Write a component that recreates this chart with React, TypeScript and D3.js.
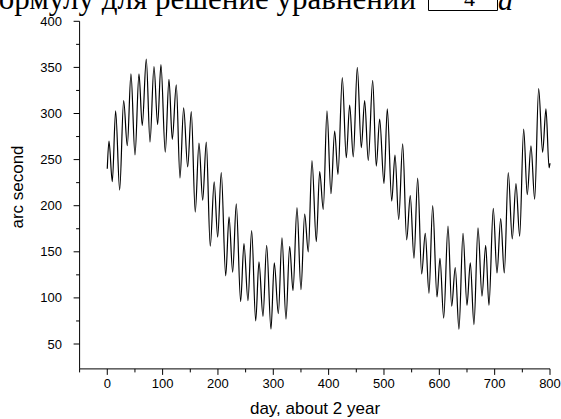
import React from "react";
import * as d3 from "d3";

// extrema of the curve (day, arc second)
const days = [
  0, 3.1, 9.1, 15.1, 22.4, 29.6, 36.2, 42.8, 50.1, 57.3, 63.2, 70.5, 77.2, 84.4, 91, 97,
  104.8, 111.5, 117.5, 124.7, 131.4, 138, 145.3, 151.8, 159, 165.7, 172.4, 178.9, 186.1,
  193.2, 199.5, 206, 214, 220, 226.6, 233.1, 241, 247, 254.2, 260.9, 268.2, 274.1, 281.4,
  288, 295.8, 301.8, 309.1, 315.7, 322.9, 329.6, 335.6, 342.8, 350, 356.7, 363.2, 369.9,
  377.7, 383.8, 390.3, 397, 404.2, 410.9, 416.9, 424.7, 431.9, 438, 444.5, 451.8, 459,
  465.1, 471.6, 479.6, 486.1, 492.2, 500, 506, 514, 519.9, 526.6, 533.8, 541, 547.5,
  554.2, 560.9, 568.1, 574.6, 581.3, 588, 595.8, 601.2, 607.9, 615.7, 622.3, 628.8,
  635.5, 642.8, 650, 656, 662.6, 669.9, 677.1, 683.8, 689.7, 697.5, 704.2, 710.9, 717.4,
  724.6, 731.8, 738.5, 745.2, 752.4, 758.9, 765.6, 772.3, 779.5, 786.7, 792.7, 798.4, 800,
];
const values = [
  240, 270, 226, 303, 217, 314, 265, 343, 255, 343, 287, 359, 269, 351, 288, 353,
  258, 337, 272, 331, 230, 306, 242, 302, 193, 268, 206, 269, 156,
  226, 166, 236, 124, 188, 128, 202, 96, 159, 97, 173, 75, 139, 80,
  157, 66, 138, 83, 165, 77, 156, 108, 198, 109, 191, 150, 249,
  161, 237, 196, 303, 213, 281, 234, 339, 252, 309, 253, 350, 263,
  314, 249, 336, 243, 294, 224, 305, 205, 255, 185, 267, 163, 211,
  143, 230, 126, 170, 105, 200, 101, 143, 78, 178, 91, 133,
  66, 170, 92, 138, 71, 176, 102, 157, 92, 197, 127, 186, 127,
  236, 164, 224, 167, 283, 212, 265, 207, 327, 258, 305, 241, 246,
];

const xMajor = [0, 100, 200, 300, 400, 500, 600, 700, 800];
const xMinor = [-50, 50, 150, 250, 350, 450, 550, 650, 750];
const yMajor = [50, 100, 150, 200, 250, 300, 350, 400];
const yMinor = [75, 125, 175, 225, 275, 325, 375];

const xLabel = "day, about 2 year";
const yLabel = "arc second";
const headerText = "формулу для решение уравнений";

export default function App() {
  const W = 561;
  const H = 419;
  const x = d3.scaleLinear().domain([-50, 800]).range([79.6, 550]);
  const y = d3.scaleLinear().domain([23, 400]).range([368.9, 21.3]);
  const pts = days.map((d, i) => [d, values[i]] as [number, number]);
  const line = d3
    .line<[number, number]>()
    .x((d) => x(d[0]))
    .y((d) => y(d[1]))
    .curve(d3.curveMonotoneX);
  const x0 = x(-50);
  const y0 = y(23);
  const sans = "Liberation Sans, Arial, sans-serif";
  return (
    <svg
      width={W}
      height={H}
      style={{ position: "fixed", left: 0, top: 0, background: "#fff" }}
    >
      <rect x={0} y={0} width={W} height={H} fill="#fff" />
      {/* header fragment cut from a document */}
      <text
        x={416}
        y={9}
        textAnchor="end"
        fontFamily="Liberation Serif, Times New Roman, serif"
        fontSize={31}
        fill="#000"
      >
        {headerText}
      </text>
      <path d="M428.5,-5 V10.5 H497.5 V-5" fill="none" stroke="#000" strokeWidth={1} />
      <text x={464} y={6} fontFamily="Liberation Serif, serif" fontSize={22} fill="#000">
        4
      </text>
      <text
        x={498}
        y={10}
        fontFamily="Liberation Serif, serif"
        fontStyle="italic"
        fontSize={30}
        fill="#000"
      >
        a
      </text>

      {/* axes */}
      <line x1={x0} y1={y(400)} x2={x0} y2={y0} stroke="#000" strokeWidth={1} />
      <line x1={x0} y1={y0} x2={x(800)} y2={y0} stroke="#000" strokeWidth={1} />
      {yMajor.map((v) => (
        <g key={"ym" + v}>
          <line x1={x0 - 6} x2={x0} y1={y(v)} y2={y(v)} stroke="#000" />
          <text
            x={62}
            y={y(v)}
            dy="0.35em"
            textAnchor="end"
            fontFamily={sans}
            fontSize={13}
            fill="#000"
          >
            {v}
          </text>
        </g>
      ))}
      {yMinor.map((v) => (
        <line key={"yn" + v} x1={x0 - 3.5} x2={x0} y1={y(v)} y2={y(v)} stroke="#000" />
      ))}
      {xMajor.map((v) => (
        <g key={"xm" + v}>
          <line x1={x(v)} x2={x(v)} y1={y0} y2={y0 + 6} stroke="#000" />
          <text
            x={x(v)}
            y={388}
            textAnchor="middle"
            fontFamily={sans}
            fontSize={13}
            fill="#000"
          >
            {v}
          </text>
        </g>
      ))}
      {xMinor.map((v) => (
        <line key={"xn" + v} x1={x(v)} x2={x(v)} y1={y0} y2={y0 + 3.5} stroke="#000" />
      ))}
      <text
        x={315}
        y={414}
        textAnchor="middle"
        fontFamily={sans}
        fontSize={17}
        fill="#000"
      >
        {xLabel}
      </text>
      <text
        transform={`translate(23,187) rotate(-90)`}
        textAnchor="middle"
        fontFamily={sans}
        fontSize={17}
        fill="#000"
      >
        {yLabel}
      </text>

      {/* data curve */}
      <path d={line(pts) || ""} fill="none" stroke="#000" strokeWidth={1.2} />
    </svg>
  );
}
